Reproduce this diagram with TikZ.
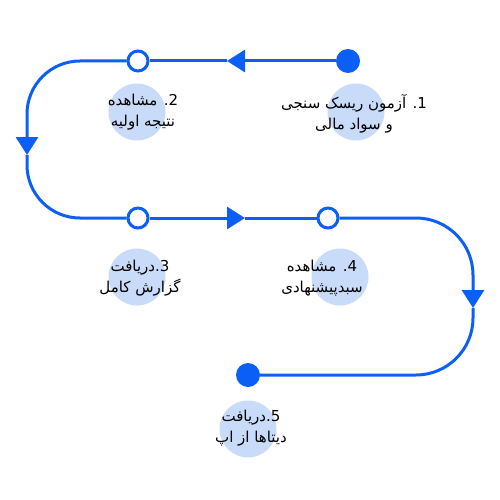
\documentclass[tikz,border=0pt]{standalone}
\usepackage{fontspec}
\usepackage{tikz}
\usetikzlibrary{arrows.meta,positioning,calc}
\newfontfamily\arabicfont[Script=Arabic]{DejaVu Sans}
\TeXXeTstate=1
\definecolor{cB}{HTML}{0B5FF5}
\definecolor{cL}{HTML}{C8DBF8}
\tikzset{
  stepdot/.style={circle,fill=cB,inner sep=0pt,minimum size=24pt},
  stepring/.style={circle,draw=cB,line width=3pt,fill=white,inner sep=0pt,minimum size=20pt},
  blob/.style={circle,fill=cL,inner sep=0pt,minimum size=57pt},
  lbl/.style={align=center,font=\arabicfont\fontsize{15}{21}\selectfont},
  route/.style={cB,line width=3pt},
  flow/.style={route,-{Triangle[width=22pt,length=18pt]}},
}

\begin{document}
\begin{tikzpicture}[x=1pt,y=-1pt]
  \useasboundingbox (0,0) rectangle (500,500);
  % steps
  \node[stepdot](s1) at (348,61){};
  \node[stepring](s2) at (138,61){};
  \node[stepring](s3) at (138,218){};
  \node[stepring](s4) at (328,218){};
  \node[stepdot](s5) at (248,375){};
  % arrow tips
  \coordinate (t1) at (227,61);
  \coordinate (t2) at (27,155);
  \coordinate (t3) at (245,218);
  \coordinate (t4) at (473,308);
  \draw[flow](s1)--(t1);
  \draw[route](t1)--(s2);
  \draw[flow,rounded corners=53pt](s2)-|(t2);
  \draw[route,rounded corners=53pt](t2)|-(s3);
  \draw[flow](s3)--(t3);
  \draw[route](t3)--(s4);
  \draw[flow,rounded corners=57pt](s4)-|(t4);
  \draw[route,rounded corners=57pt](t4)|-(s5);
  % labels
  \node[blob](b1) at (356,112){};
  \node[blob](b2) at (137,112){};
  \node[blob](b3) at (137,277){};
  \node[blob](b4) at (340,277){};
  \node[blob](b5) at (248,429){};
  \node[lbl](l1) at (354,114){\beginR 1. آزمون ریسک سنجی\endR\\\beginR و سواد مالی\endR};
  \node[lbl](l2) at (143,112){\beginR 2. مشاهده\endR\\\beginR نتیجه اولیه\endR};
  \node[lbl](l3) at (140,278){\beginR 3.دریافت\endR\\\beginR گزارش کامل\endR};
  \node[lbl](l4) at (322,278){\beginR 4. مشاهده\endR\\\beginR سبدپیشنهادی\endR};
  \node[lbl](l5) at (251,428){\beginR 5.دریافت\endR\\\beginR دیتاها از اپ\endR};
\end{tikzpicture}
\end{document}
